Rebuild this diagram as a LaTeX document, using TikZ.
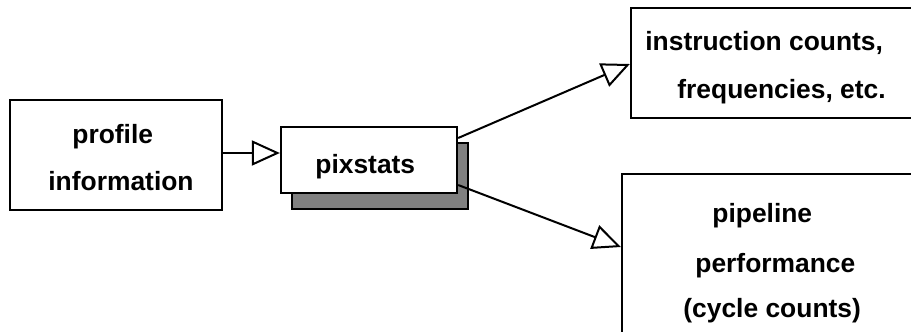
\documentclass[tikz,border=0pt]{standalone}
\usepackage{fontspec}
\setmainfont{Liberation Sans}
\usetikzlibrary{arrows.meta}
\begin{document}
\begin{tikzpicture}[x=0.5pt,y=-0.5pt,
  box/.style={draw=black, line width=1.15pt, fill=white, rectangle, inner sep=0pt},
  shadowbox/.style={draw=black, line width=1.15pt, fill=black!50, rectangle, inner sep=0pt},
  lbl/.style={inner sep=0pt, anchor=base west, font=\fontsize{13.2pt}{15pt}\selectfont\bfseries},
  link/.style={draw=black, line width=1pt,
    -{Triangle[fill=white, length=14pt, width=12.5pt, line width=1pt]}}]
\useasboundingbox (0,0) rectangle (911,332);
\clip (0,0) rectangle (911,332);

% source box
\node[box, minimum width=106pt, minimum height=55pt] (prof) at (116,155) {};
\node[lbl] (profa) at (72,143) {profile};
\node[lbl] (profb) at (48,190) {information};

% pixstats with its drop shadow
\node[shadowbox, minimum width=88pt, minimum height=33pt] (pixsh) at (380,176) {};
\node[box, minimum width=88pt, minimum height=33pt] (pix) at (369,160) {};
\node[lbl] (pixt) at (315,173) {pixstats};

% output boxes (running off the right edge)
\node[box, minimum width=149.5pt, minimum height=55pt] (inst) at (780.5,63) {};
\node[lbl] (insta) at (645,50) {instruction counts,};
\node[lbl] (instb) at (677,98) {frequencies, etc.};

\node[box, minimum width=154pt, minimum height=85.5pt] (pipe) at (776,259.5) {};
\node[lbl] (pipea) at (712,222) {pipeline};
\node[lbl] (pipeb) at (695,272) {performance};
\node[lbl] (pipec) at (683,317) {(cycle counts)};

% connectors
\draw[link] (prof.east |- 0,153) -- (pix.west |- 0,153);
\draw[link] (pix.east |- 0,138) -- (inst.west |- 0,64);
\draw[link] (pix.east |- 0,185) -- (pipe.west |- 0,247);
\end{tikzpicture}
\end{document}
